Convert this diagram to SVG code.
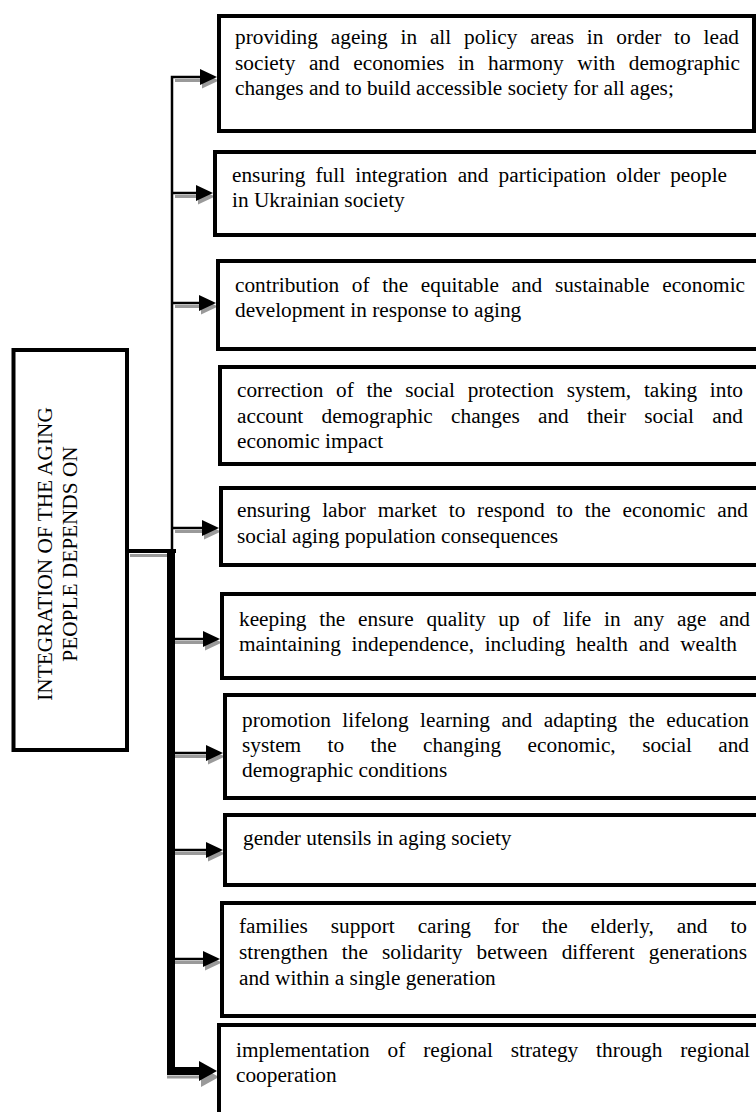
<svg xmlns="http://www.w3.org/2000/svg" width="756" height="1112" viewBox="0 0 756 1112">
<style>
.box{fill:#fff;stroke:#000;stroke-width:4}
.t{font-family:"Liberation Serif","Times New Roman",serif;font-size:21.3px;fill:#000}
.ln{fill:none;stroke:#000;stroke-width:2.5}
.sh{fill:none;stroke:#9a9a9a;stroke-width:3}
.tk{fill:none;stroke:#000;stroke-width:8}
</style>
<defs>
<marker id="ah" markerUnits="userSpaceOnUse" viewBox="0 0 17 16" markerWidth="17" markerHeight="16" refX="0" refY="8" orient="auto"><path d="M0,0 L17,8 L0,16 Z" fill="#000"/></marker>
<marker id="ahg" markerUnits="userSpaceOnUse" viewBox="0 0 17 16" markerWidth="17" markerHeight="16" refX="0" refY="8" orient="auto"><path d="M0,0 L17,8 L0,16 Z" fill="#9a9a9a"/></marker>
<marker id="ahk" markerUnits="userSpaceOnUse" viewBox="0 0 18 20" markerWidth="18" markerHeight="20" refX="0" refY="10" orient="auto"><path d="M0,0 L18,10 L0,20 Z" fill="#000"/></marker>
<marker id="ahkg" markerUnits="userSpaceOnUse" viewBox="0 0 18 20" markerWidth="18" markerHeight="20" refX="0" refY="10" orient="auto"><path d="M0,0 L18,10 L0,20 Z" fill="#9a9a9a"/></marker>
</defs>

<g id="connectors">
  <!-- stub from main box -->
  <path class="sh" d="M130,555.5 H167"/>
  <path d="M127,551 H176" fill="none" stroke="#000" stroke-width="4"/>
  <!-- thin upper trunk with first arrow -->
  <path class="sh" d="M175,80.5 H202" marker-end="url(#ahg)"/>
  <path class="ln" d="M172,551 V77 H200" marker-end="url(#ah)"/>
  <!-- arrows -->
  <path class="sh" d="M175,196.5 H198" marker-end="url(#ahg)"/>
  <path class="ln" d="M172,193 H196" marker-end="url(#ah)"/>
  <path class="sh" d="M175,306.5 H201" marker-end="url(#ahg)"/>
  <path class="ln" d="M172,303 H199" marker-end="url(#ah)"/>
  <path class="sh" d="M175,531.5 H204" marker-end="url(#ahg)"/>
  <path class="ln" d="M172,528 H202" marker-end="url(#ah)"/>
  <path class="sh" d="M175,642.5 H205" marker-end="url(#ahg)"/>
  <path class="ln" d="M172,639 H203" marker-end="url(#ah)"/>
  <path class="sh" d="M175,756.5 H208" marker-end="url(#ahg)"/>
  <path class="ln" d="M172,753 H206" marker-end="url(#ah)"/>
  <path class="sh" d="M175,853.5 H208" marker-end="url(#ahg)"/>
  <path class="ln" d="M172,850 H206" marker-end="url(#ah)"/>
  <path class="sh" d="M175,962.5 H205" marker-end="url(#ahg)"/>
  <path class="ln" d="M172,959 H203" marker-end="url(#ah)"/>
  <!-- thick lower trunk with last arrow -->
  <path class="sh" d="M167,1077 H201" marker-end="url(#ahkg)"/>
  <path class="tk" d="M171,551 V1071 H199" marker-end="url(#ahk)"/>
</g>

<g id="n0">
  <rect class="box" x="13.5" y="350" width="113.5" height="400"/>
  <text class="t" text-anchor="middle" transform="translate(52,554) rotate(-90)">INTEGRATION OF THE AGING</text>
  <text class="t" text-anchor="middle" transform="translate(77,554) rotate(-90)">PEOPLE DEPENDS ON</text>
</g>

<g id="n1">
  <rect class="box" x="219" y="16" width="535" height="115"/>
  <text class="t" x="235" y="44" word-spacing="7.5" textLength="504" lengthAdjust="spacing">providing ageing in all policy areas in order to lead</text>
  <text class="t" x="235" y="69.5" word-spacing="8.2" textLength="505" lengthAdjust="spacing">society and economies in harmony with demographic</text>
  <text class="t" x="235" y="95">changes and to build accessible society for all ages;</text>
</g>

<g id="n2">
  <rect class="box" x="215" y="152" width="560" height="83"/>
  <text class="t" x="232" y="182" word-spacing="4.8" textLength="495" lengthAdjust="spacing">ensuring full integration and participation older people</text>
  <text class="t" x="232" y="207">in Ukrainian society</text>
</g>

<g id="n3">
  <rect class="box" x="218" y="261" width="560" height="88"/>
  <text class="t" x="235" y="292" word-spacing="7.3" textLength="510" lengthAdjust="spacing">contribution of the equitable and sustainable economic</text>
  <text class="t" x="235" y="317">development in response to aging</text>
</g>

<g id="n4">
  <rect class="box" x="220" y="367" width="560" height="97"/>
  <text class="t" x="237" y="397" word-spacing="7.4" textLength="506" lengthAdjust="spacing">correction of the social protection system, taking into</text>
  <text class="t" x="237" y="423" word-spacing="12.9" textLength="506" lengthAdjust="spacing">account demographic changes and their social and</text>
  <text class="t" x="237" y="448">economic impact</text>
</g>

<g id="n5">
  <rect class="box" x="221" y="488" width="560" height="77"/>
  <text class="t" x="237" y="517" word-spacing="6.5" textLength="511" lengthAdjust="spacing">ensuring labor market to respond to the economic and</text>
  <text class="t" x="237" y="543">social aging population consequences</text>
</g>

<g id="n6">
  <rect class="box" x="222" y="594" width="560" height="84"/>
  <text class="t" x="239" y="626" word-spacing="7.4" textLength="511" lengthAdjust="spacing">keeping the ensure quality up of life in any age and</text>
  <text class="t" x="239" y="651" word-spacing="5.4" textLength="498" lengthAdjust="spacing">maintaining independence, including health and wealth</text>
</g>

<g id="n7">
  <rect class="box" x="225" y="695" width="560" height="103"/>
  <text class="t" x="242" y="727" word-spacing="6.2" textLength="507" lengthAdjust="spacing">promotion lifelong learning and adapting the education</text>
  <text class="t" x="242" y="752" word-spacing="21.1" textLength="507" lengthAdjust="spacing">system to the changing economic, social and</text>
  <text class="t" x="242" y="777">demographic conditions</text>
</g>

<g id="n8">
  <rect class="box" x="225" y="815" width="560" height="70"/>
  <text class="t" x="243" y="845">gender utensils in aging society</text>
</g>

<g id="n9">
  <rect class="box" x="222" y="903" width="560" height="113"/>
  <text class="t" x="239" y="933" word-spacing="17.5" textLength="508" lengthAdjust="spacing">families support caring for the elderly, and to</text>
  <text class="t" x="239" y="959" word-spacing="8.7" textLength="508" lengthAdjust="spacing">strengthen the solidarity between different generations</text>
  <text class="t" x="239" y="985">and within a single generation</text>
</g>

<g id="n10">
  <rect class="box" x="219" y="1025" width="560" height="110"/>
  <text class="t" x="236" y="1057" word-spacing="12.5" textLength="514" lengthAdjust="spacing">implementation of regional strategy through regional</text>
  <text class="t" x="236" y="1082">cooperation</text>
</g>
</svg>
